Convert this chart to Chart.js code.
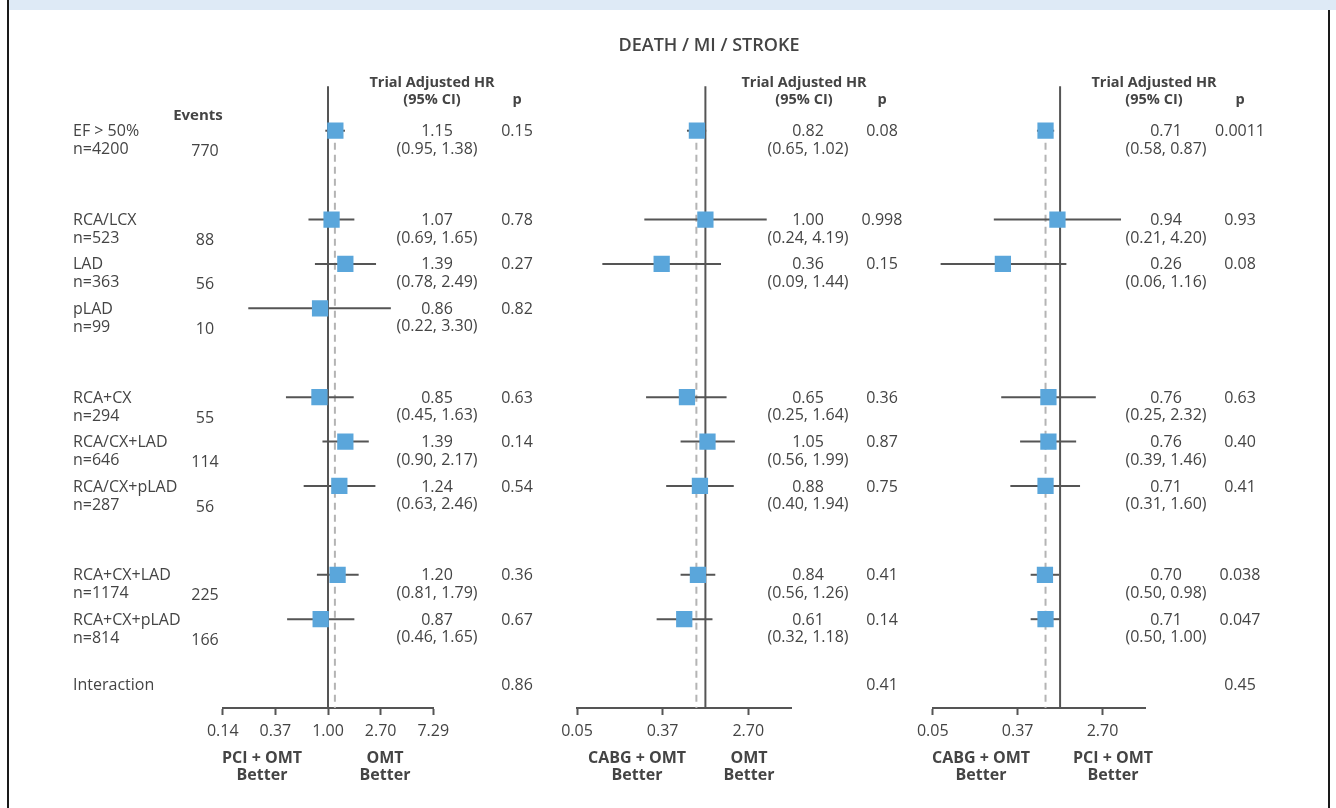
<!DOCTYPE html>
<html>
<head>
<meta charset="utf-8">
<script src="https://cdn.jsdelivr.net/npm/chart.js@4.4.0/dist/chart.umd.min.js"></script>
<style>
html, body { margin: 0; padding: 0; background: #fff; }
#page { position: relative; width: 1336px; height: 808px; overflow: hidden; }
#band { position: absolute; left: 9px; top: 0; width: 1327px; height: 10px; background: #deeaf6; }
#lborder { position: absolute; left: 7px; top: 0; width: 2px; height: 808px; background: #1a1a1a; }
#rborder { position: absolute; left: 1328px; top: 10px; width: 2px; height: 798px; background: #1a1a1a; }
.panel { position: absolute; top: 0; height: 808px; }
</style>
</head>
<body>
<div id="page">
  <div id="band"></div>
  <div id="lborder"></div>
  <div id="rborder"></div>
</div>
<script>
// rows (y position is the row slot, gaps are empty slots)
const rowLabels = ['EF > 50%', 'RCA/LCX', 'LAD', 'pLAD', 'RCA+CX', 'RCA/CX+LAD', 'RCA/CX+pLAD', 'RCA+CX+LAD', 'RCA+CX+pLAD'];
const rowN = ['n=4200', 'n=523', 'n=363', 'n=99', 'n=294', 'n=646', 'n=287', 'n=1174', 'n=814'];
const rowEvents = ['770', '88', '56', '10', '55', '114', '56', '225', '166'];
const rowSlots = [0, 2, 3, 4, 6, 7, 8, 10, 11];
const interactionSlot = 12.5;

// PCI + OMT vs OMT
const pciHR = [1.15, 1.07, 1.39, 0.86, 0.85, 1.39, 1.24, 1.20, 0.87];
const pciLow = [0.95, 0.69, 0.78, 0.22, 0.45, 0.90, 0.63, 0.81, 0.46];
const pciHigh = [1.38, 1.65, 2.49, 3.30, 1.63, 2.17, 2.46, 1.79, 1.65];
const pciP = ['0.15', '0.78', '0.27', '0.82', '0.63', '0.14', '0.54', '0.36', '0.67'];
const pciInteraction = '0.86';
const pciOverall = 1.14;

// CABG + OMT vs OMT
const cabgHR = [0.82, 1.00, 0.36, null, 0.65, 1.05, 0.88, 0.84, 0.61];
const cabgLow = [0.65, 0.24, 0.09, null, 0.25, 0.56, 0.40, 0.56, 0.32];
const cabgHigh = [1.02, 4.19, 1.44, null, 1.64, 1.99, 1.94, 1.26, 1.18];
const cabgP = ['0.08', '0.998', '0.15', '', '0.36', '0.87', '0.75', '0.41', '0.14'];
const cabgInteraction = '0.41';
const cabgOverall = 0.81;

// CABG + OMT vs PCI + OMT
const cvpHR = [0.71, 0.94, 0.26, null, 0.76, 0.76, 0.71, 0.70, 0.71];
const cvpLow = [0.58, 0.21, 0.06, null, 0.25, 0.39, 0.31, 0.50, 0.50];
const cvpHigh = [0.87, 4.20, 1.16, null, 2.32, 1.46, 1.60, 0.98, 1.00];
const cvpP = ['0.0011', '0.93', '0.08', '', '0.63', '0.40', '0.41', '0.038', '0.047'];
const cvpInteraction = '0.45';
const cvpOverall = 0.71;

const ticksWide = [Math.exp(-2), Math.exp(-1), 1, Math.exp(1), Math.exp(2)];
const ticksWideLabels = ['0.14', '0.37', '1.00', '2.70', '7.29'];
const ticksCabg = [Math.exp(-3), Math.exp(-1), Math.exp(1)];
const ticksCabgLabels = ['0.05', '0.37', '2.70'];

const FONT = '"Open Sans", sans-serif';
const TEXT = '#444444';
const LINE = '#555555';
const BLUE = '#5aa6db';

function fmtCI(lo, hi) {
    return '(' + lo.toFixed(2) + ', ' + hi.toFixed(2) + ')';
}

function forestPlugin(p) {
    const L = p.left;
    return {
        id: 'forest',
        beforeDatasetsDraw(chart) {
            const ctx = chart.ctx;
            const x = chart.scales.x, y = chart.scales.y;
            const area = chart.chartArea;
            ctx.save();
            // reference line at HR = 1
            ctx.strokeStyle = LINE;
            ctx.lineWidth = 2;
            ctx.beginPath();
            ctx.moveTo(x.getPixelForValue(1), area.top);
            ctx.lineTo(x.getPixelForValue(1), area.bottom);
            ctx.stroke();
            // overall estimate
            ctx.strokeStyle = '#b4b4b4';
            ctx.setLineDash([7, 5]);
            ctx.beginPath();
            ctx.moveTo(x.getPixelForValue(p.overall), y.getPixelForValue(rowSlots[0]));
            ctx.lineTo(x.getPixelForValue(p.overall), area.bottom);
            ctx.stroke();
            ctx.setLineDash([]);
            // confidence intervals
            ctx.strokeStyle = LINE;
            ctx.lineWidth = 2;
            p.hr.forEach((hr, i) => {
                if (hr == null) return;
                const py = y.getPixelForValue(rowSlots[i]);
                ctx.beginPath();
                ctx.moveTo(x.getPixelForValue(p.low[i]), py);
                ctx.lineTo(x.getPixelForValue(p.high[i]), py);
                ctx.stroke();
            });
            ctx.restore();
        },
        afterDraw(chart) {
            const ctx = chart.ctx;
            const y = chart.scales.y;
            ctx.save();
            ctx.fillStyle = TEXT;
            ctx.textBaseline = 'middle';

            if (p.title) {
                ctx.font = '600 18px ' + FONT;
                ctx.textAlign = 'center';
                ctx.fillText(p.title, 709 - L, 46);
            }

            if (p.rowText) {
                ctx.font = 'bold 15px ' + FONT;
                ctx.textAlign = 'center';
                ctx.fillText('Events', 198 - L, 116);
                ctx.font = '16px ' + FONT;
                rowLabels.forEach((lab, i) => {
                    const py = y.getPixelForValue(rowSlots[i]);
                    ctx.textAlign = 'left';
                    ctx.fillText(lab, 73 - L, py + 1);
                    ctx.fillText(rowN[i], 73 - L, py + 19);
                    ctx.textAlign = 'center';
                    ctx.fillText(rowEvents[i], 205 - L, py + 21);
                });
                ctx.textAlign = 'left';
                ctx.fillText('Interaction', 73 - L, y.getPixelForValue(interactionSlot));
            }

            // column headers
            ctx.font = 'bold 14.5px ' + FONT;
            ctx.textAlign = 'center';
            ctx.fillText('Trial Adjusted HR', p.hdrX - L, 83);
            ctx.fillText('(95% CI)', p.hdrX - L, 100);
            ctx.fillText('p', p.pX - L, 100);

            // estimates and p values
            ctx.font = '16px ' + FONT;
            p.hr.forEach((hr, i) => {
                if (hr == null) return;
                const py = y.getPixelForValue(rowSlots[i]);
                ctx.fillText(hr.toFixed(2), p.hrX - L, py + 1);
                ctx.fillText(fmtCI(p.low[i], p.high[i]), p.hrX - L, py + 18.5);
                ctx.fillText(p.pv[i], p.pX - L, py + 1);
            });
            ctx.fillText(p.interaction, p.pX - L, y.getPixelForValue(interactionSlot));

            // favour captions
            ctx.font = 'bold 16px ' + FONT;
            p.captions.forEach(c => {
                ctx.fillText(c[0], c[1] - L, 758);
                ctx.fillText('Better', c[1] - L, 775);
            });
            ctx.restore();
        }
    };
}

function drawPanel(p) {
    const box = document.createElement('div');
    box.className = 'panel';
    box.style.left = p.left + 'px';
    box.style.width = p.width + 'px';
    document.getElementById('page').appendChild(box);
    const canvas = document.createElement('canvas');
    canvas.width = p.width;
    canvas.height = 808;
    box.appendChild(canvas);

    const points = [];
    p.hr.forEach((hr, i) => {
        if (hr != null) points.push({ x: hr, y: rowSlots[i] });
    });

    new Chart(canvas, {
        type: 'scatter',
        data: {
            datasets: [{
                data: points,
                pointStyle: 'rect',
                radius: 11.5,
                hoverRadius: 11.5,
                backgroundColor: BLUE,
                borderWidth: 0
            }]
        },
        options: {
            responsive: false,
            animation: false,
            layout: {
                padding: { left: p.axisFrom - p.left, right: p.left + p.width - p.axisTo, top: 86.3, bottom: 0 }
            },
            scales: {
                x: {
                    type: 'logarithmic',
                    min: p.ticks[0] === ticksWide[0] ? Math.exp(-2) : Math.exp(-3),
                    max: Math.exp(2),
                    afterBuildTicks: s => { s.ticks = p.ticks.map(v => ({ value: v })); },
                    afterFit: s => { s.height = 100; },
                    ticks: {
                        callback: (v, i) => p.tickLabels[i],
                        autoSkip: false,
                        maxRotation: 0,
                        padding: 7,
                        color: TEXT,
                        font: { family: FONT, size: 16 }
                    },
                    grid: { drawOnChartArea: false, drawTicks: true, tickLength: 7, tickWidth: 2, tickColor: LINE },
                    border: { display: true, color: LINE, width: 2 }
                },
                y: {
                    display: false,
                    reverse: true,
                    min: -1,
                    max: 13
                }
            },
            plugins: {
                legend: { display: false },
                tooltip: { enabled: false }
            }
        },
        plugins: [forestPlugin(p)]
    });
}

drawPanel({
    left: 0, width: 540, axisFrom: 222.7, axisTo: 433.3,
    ticks: ticksWide, tickLabels: ticksWideLabels,
    hr: pciHR, low: pciLow, high: pciHigh, pv: pciP, interaction: pciInteraction, overall: pciOverall,
    hdrX: 432, hrX: 437, pX: 517, rowText: true,
    captions: [['PCI + OMT', 262], ['OMT', 385]]
});
drawPanel({
    left: 540, width: 380, axisFrom: 577, axisTo: 791,
    ticks: ticksCabg, tickLabels: ticksCabgLabels,
    hr: cabgHR, low: cabgLow, high: cabgHigh, pv: cabgP, interaction: cabgInteraction, overall: cabgOverall,
    hdrX: 804, hrX: 808, pX: 882, title: 'DEATH / MI / STROKE',
    captions: [['CABG + OMT', 637], ['OMT', 749]]
});
drawPanel({
    left: 900, width: 436, axisFrom: 932.7, axisTo: 1145,
    ticks: ticksCabg, tickLabels: ticksCabgLabels,
    hr: cvpHR, low: cvpLow, high: cvpHigh, pv: cvpP, interaction: cvpInteraction, overall: cvpOverall,
    hdrX: 1154, hrX: 1166, pX: 1240,
    captions: [['CABG + OMT', 981], ['PCI + OMT', 1113]]
});
</script>
</body>
</html>
